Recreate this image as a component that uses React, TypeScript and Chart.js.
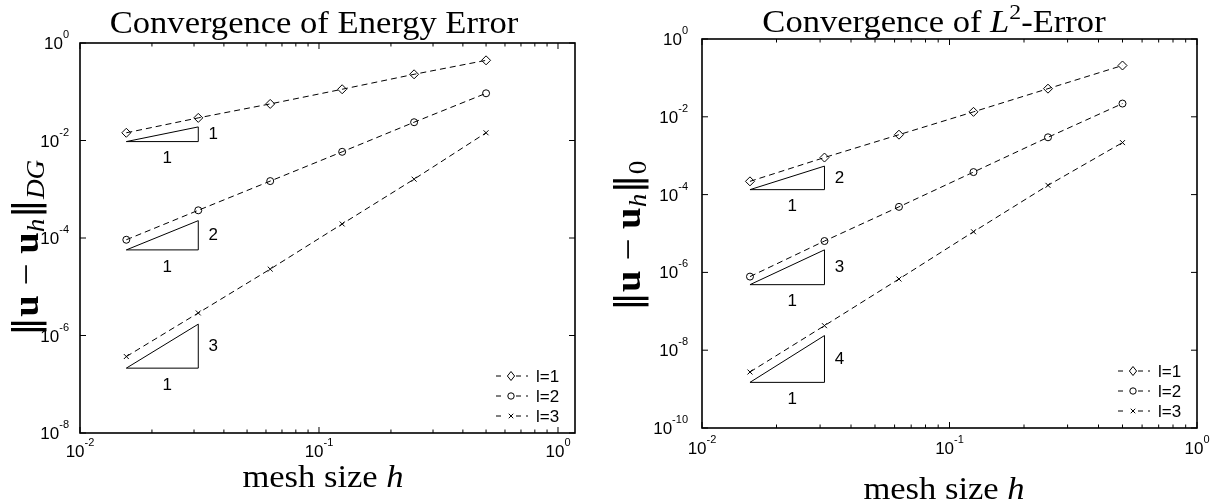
import React, { useEffect, useRef } from "react";
import { Chart, registerables } from "chart.js";

Chart.register(...registerables);

// ---------------- data ----------------
const meshSizes = [0.015625, 0.03125, 0.0625, 0.125, 0.25, 0.5];
const seriesLabels = ["l=1", "l=2", "l=3"];
const pointStyles = ["rectRot", "circle", "crossRot"];
const pointRadii = [4.5, 3.5, 3.5];

const energyErrL1 = [0.0144, 0.0291, 0.0563, 0.1125, 0.228, 0.441];
const energyErrL2 = [9.2e-5, 3.7e-4, 1.47e-3, 5.86e-3, 0.0237, 0.093];
const energyErrL3 = [3.7e-7, 2.9e-6, 2.3e-5, 1.94e-4, 1.61e-3, 0.0144];

const l2ErrL1 = [2.19e-4, 8.97e-4, 3.47e-3, 0.0134, 0.0529, 0.2085];
const l2ErrL2 = [7.8e-7, 6.4e-6, 4.84e-5, 3.79e-4, 2.97e-3, 0.0219];
const l2ErrL3 = [2.75e-9, 4.27e-8, 6.76e-7, 1.11e-5, 1.73e-4, 2.17e-3];

const triangleH = [0.015625, 0.03125];
const energyTriBase = [0.0095, 5.7e-5, 2.14e-7];
const energyTriTop = [0.019, 2.27e-4, 1.71e-6];
const energyTriRates = ["1", "2", "3"];
const l2TriBase = [1.34e-4, 4.84e-7, 1.49e-9];
const l2TriTop = [5.4e-4, 3.8e-6, 2.38e-8];
const l2TriRates = ["2", "3", "4"];

const xTickExps = [-2, -1, 0];
const energyYTickExps = [0, -2, -4, -6, -8];
const l2YTickExps = [0, -2, -4, -6, -8, -10];

// ---------------- styling helpers ----------------
const SANS = '"Liberation Sans", Arial, sans-serif';
const SERIF = '"Liberation Serif", "DejaVu Serif", serif';
const NORM = '"DejaVu Sans", "Liberation Serif", serif';
const CANVAS_W = 608;
const CANVAS_H = 502;

type Part = { t: string; font: string; dy?: number };

function drawParts(
  ctx: CanvasRenderingContext2D,
  parts: Part[],
  x: number,
  y: number,
  align: "left" | "center" | "right",
  rot = 0,
  sx = 1
) {
  ctx.save();
  ctx.translate(x, y);
  if (rot) ctx.rotate(rot);
  ctx.scale(sx, 1);
  ctx.fillStyle = "#000";
  ctx.textBaseline = "alphabetic";
  ctx.textAlign = "left";
  let w = 0;
  for (const p of parts) {
    ctx.font = p.font;
    w += ctx.measureText(p.t).width;
  }
  let cx = align === "left" ? 0 : align === "center" ? -w / 2 : -w;
  for (const p of parts) {
    ctx.font = p.font;
    ctx.fillText(p.t, cx, p.dy || 0);
    cx += ctx.measureText(p.t).width;
  }
  ctx.restore();
}

function powParts(exp: number): Part[] {
  return [
    { t: "10", font: `17px ${SANS}` },
    { t: String(exp), font: `11px ${SANS}`, dy: -11 },
  ];
}

function drawMarker(ctx: CanvasRenderingContext2D, style: string, x: number, y: number, r: number) {
  ctx.beginPath();
  if (style === "rectRot") {
    ctx.moveTo(x, y - r);
    ctx.lineTo(x + r * 0.8, y);
    ctx.lineTo(x, y + r);
    ctx.lineTo(x - r * 0.8, y);
    ctx.closePath();
  } else if (style === "circle") {
    ctx.arc(x, y, r, 0, Math.PI * 2);
  } else {
    const d = r * 0.7071;
    ctx.moveTo(x - d, y - d);
    ctx.lineTo(x + d, y + d);
    ctx.moveTo(x + d, y - d);
    ctx.lineTo(x - d, y + d);
  }
  ctx.stroke();
}

type Panel = {
  canvasLeft: number;
  area: { l: number; t: number; r: number; b: number };
  xMax: number;
  yMin: number;
  series: number[][];
  triBase: number[];
  triTop: number[];
  triRates: string[];
  yTickExps: number[];
  yTickRight: number;
  xTickBaseline: number;
  title: Part[];
  titleX: number;
  titleY: number;
  yLabel: Part[];
  yLabelX: number;
  yLabelY: number;
  xLabelX: number;
  xLabelY: number;
};

const TITLE_FONT = `32px ${SERIF}`;
const LABEL_FONT = `32px ${SERIF}`;
const YL = 36;
const SERIF_SX = 1.08;

function yLabelParts(sub: Part): Part[] {
  return [
    { t: "‖", font: `${YL}px ${NORM}` },
    { t: "u", font: `bold ${YL}px ${SERIF}` },
    { t: " − ", font: `${YL}px ${SERIF}` },
    { t: "u", font: `bold ${YL}px ${SERIF}` },
    { t: "h", font: `italic ${YL * 0.7}px ${SERIF}`, dy: 6 },
    { t: "‖", font: `${YL}px ${NORM}` },
    sub,
  ];
}

const panels: Panel[] = [
  {
    canvasLeft: 0,
    area: { l: 80, t: 43, r: 575, b: 433 },
    xMax: 1.178,
    yMin: 1e-8,
    series: [energyErrL1, energyErrL2, energyErrL3],
    triBase: energyTriBase,
    triTop: energyTriTop,
    triRates: energyTriRates,
    yTickExps: energyYTickExps,
    yTickRight: 69,
    xTickBaseline: 457,
    title: [{ t: "Convergence of Energy Error", font: TITLE_FONT }],
    titleX: 314,
    titleY: 33,
    yLabel: yLabelParts({ t: "DG", font: `italic ${YL * 0.7}px ${SERIF}`, dy: 6 }),
    yLabelX: 38,
    yLabelY: 248,
    xLabelX: 323,
    xLabelY: 487,
  },
  {
    canvasLeft: 608,
    area: { l: 702, t: 39, r: 1197, b: 428 },
    xMax: 1,
    yMin: 1e-10,
    series: [l2ErrL1, l2ErrL2, l2ErrL3],
    triBase: l2TriBase,
    triTop: l2TriTop,
    triRates: l2TriRates,
    yTickExps: l2YTickExps,
    yTickRight: 688,
    xTickBaseline: 454,
    title: [
      { t: "Convergence of ", font: TITLE_FONT },
      { t: "L", font: `italic 32px ${SERIF}` },
      { t: "2", font: `22px ${SERIF}`, dy: -13 },
      { t: "-Error", font: TITLE_FONT },
    ],
    titleX: 934,
    titleY: 32,
    yLabel: yLabelParts({ t: "0", font: `${YL * 0.7}px ${SERIF}`, dy: 6 }),
    yLabelX: 640,
    yLabelY: 236,
    xLabelX: 944,
    xLabelY: 499,
  },
];

function decorPlugin(p: Panel) {
  return {
    id: "decor",
    afterDatasetsDraw(chart: any) {
      const ctx: CanvasRenderingContext2D = chart.ctx;
      const xs = chart.scales.x;
      const ys = chart.scales.y;
      const { left, right, top, bottom } = chart.chartArea;
      const off = p.canvasLeft;
      ctx.save();
      ctx.strokeStyle = "#000";
      ctx.fillStyle = "#000";

      // box
      ctx.lineWidth = 1.6;
      ctx.setLineDash([]);
      ctx.strokeRect(left, top, right - left, bottom - top);

      // x ticks (inward, top and bottom)
      ctx.lineWidth = 1;
      for (const d of xTickExps) {
        for (let k = 1; k <= 9; k++) {
          const v = k * Math.pow(10, d);
          if (v < 0.01 - 1e-12 || v > p.xMax + 1e-12) continue;
          const px = xs.getPixelForValue(v);
          const len = k === 1 ? 6 : 3.5;
          ctx.beginPath();
          ctx.moveTo(px, bottom);
          ctx.lineTo(px, bottom - len);
          ctx.moveTo(px, top);
          ctx.lineTo(px, top + len);
          ctx.stroke();
        }
      }
      // y ticks
      for (const e of p.yTickExps) {
        const py = ys.getPixelForValue(Math.pow(10, e));
        ctx.beginPath();
        ctx.moveTo(left, py);
        ctx.lineTo(left + 6, py);
        ctx.moveTo(right, py);
        ctx.lineTo(right - 6, py);
        ctx.stroke();
      }

      // tick labels
      for (const d of xTickExps) {
        const v = Math.pow(10, d);
        if (v > p.xMax + 1e-12) continue;
        drawParts(ctx, powParts(d), xs.getPixelForValue(v), p.xTickBaseline, "center");
      }
      for (const e of p.yTickExps) {
        const py = ys.getPixelForValue(Math.pow(10, e));
        drawParts(ctx, powParts(e), p.yTickRight - off, py + 6, "right");
      }

      // slope triangle labels
      for (let i = 0; i < p.triBase.length; i++) {
        const x0 = xs.getPixelForValue(triangleH[0]);
        const x1 = xs.getPixelForValue(triangleH[1]);
        const yb = ys.getPixelForValue(p.triBase[i]);
        const yt = ys.getPixelForValue(p.triTop[i]);
        ctx.font = `17px ${SANS}`;
        ctx.textAlign = "center";
        ctx.textBaseline = "middle";
        ctx.fillText(p.triRates[i], x1 + 15, (yb + yt) / 2);
        ctx.fillText("1", (x0 + x1) / 2 + 5, yb + 17);
      }

      // legend
      const lx = right - 79;
      for (let i = 0; i < 3; i++) {
        const ly = bottom - 17 - (2 - i) * 20;
        ctx.lineWidth = 1;
        ctx.setLineDash([5, 5]);
        ctx.beginPath();
        ctx.moveTo(lx, ly);
        ctx.lineTo(lx + 32, ly);
        ctx.stroke();
        ctx.setLineDash([]);
        ctx.fillStyle = "#fff";
        ctx.fillRect(lx + 10, ly - 5, 10, 10);
        ctx.fillStyle = "#000";
        drawMarker(ctx, pointStyles[i], lx + 15, ly, i === 0 ? 4.5 : 3.2);
        ctx.font = `17px ${SANS}`;
        ctx.textAlign = "left";
        ctx.textBaseline = "middle";
        ctx.fillText(seriesLabels[i], lx + 40, ly + 1);
      }

      // titles and axis labels
      drawParts(ctx, p.title, p.titleX - off, p.titleY, "center", 0, SERIF_SX);
      drawParts(
        ctx,
        [
          { t: "mesh size ", font: LABEL_FONT },
          { t: "h", font: `italic 32px ${SERIF}` },
        ],
        p.xLabelX - off,
        p.xLabelY,
        "center",
        0,
        SERIF_SX
      );
      drawParts(ctx, p.yLabel, p.yLabelX - off, p.yLabelY, "center", -Math.PI / 2, SERIF_SX);
      ctx.restore();
    },
  };
}

function buildChart(canvas: HTMLCanvasElement, p: Panel) {
  const datasets: any[] = [];
  p.series.forEach((vals, i) => {
    datasets.push({
      label: seriesLabels[i],
      data: meshSizes.map((h, j) => ({ x: h, y: vals[j] })),
      borderColor: "#000",
      borderWidth: 1,
      borderDash: [6, 4],
      pointStyle: pointStyles[i],
      pointRadius: pointRadii[i],
      pointBorderColor: "#000",
      pointBackgroundColor: "rgba(255,255,255,0)",
      pointBorderWidth: 1,
      fill: false,
      tension: 0,
    });
  });
  p.triBase.forEach((b, i) => {
    const t = p.triTop[i];
    datasets.push({
      label: "tri" + i,
      data: [
        { x: triangleH[0], y: b },
        { x: triangleH[1], y: b },
        { x: triangleH[1], y: t },
        { x: triangleH[0], y: b },
      ],
      borderColor: "#000",
      borderWidth: 1,
      pointRadius: 0,
      fill: false,
      tension: 0,
    });
  });
  const a = p.area;
  return new Chart(canvas, {
    type: "line",
    data: { datasets },
    options: {
      animation: false,
      responsive: false,
      devicePixelRatio: 1,
      layout: {
        padding: {
          left: a.l - p.canvasLeft,
          top: a.t,
          right: p.canvasLeft + CANVAS_W - a.r,
          bottom: CANVAS_H - a.b,
        },
      },
      plugins: {
        legend: { display: false },
        tooltip: { enabled: false },
        title: { display: false },
      },
      scales: {
        x: { type: "logarithmic", min: 0.01, max: p.xMax, display: false },
        y: { type: "logarithmic", min: p.yMin, max: 1, display: false },
      },
    },
    plugins: [decorPlugin(p)],
  } as any);
}

export default function App() {
  const ref1 = useRef<HTMLCanvasElement>(null);
  const ref2 = useRef<HTMLCanvasElement>(null);
  useEffect(() => {
    const c1 = buildChart(ref1.current!, panels[0]);
    const c2 = buildChart(ref2.current!, panels[1]);
    return () => {
      c1.destroy();
      c2.destroy();
    };
  }, []);
  return (
    <div
      style={{
        position: "fixed",
        left: 0,
        top: 0,
        width: 1216,
        height: 502,
        background: "#fff",
        overflow: "hidden",
      }}
    >
      <canvas
        ref={ref1}
        width={CANVAS_W}
        height={CANVAS_H}
        style={{ position: "absolute", left: 0, top: 0, width: CANVAS_W, height: CANVAS_H }}
      />
      <canvas
        ref={ref2}
        width={CANVAS_W}
        height={CANVAS_H}
        style={{ position: "absolute", left: 608, top: 0, width: CANVAS_W, height: CANVAS_H }}
      />
    </div>
  );
}
